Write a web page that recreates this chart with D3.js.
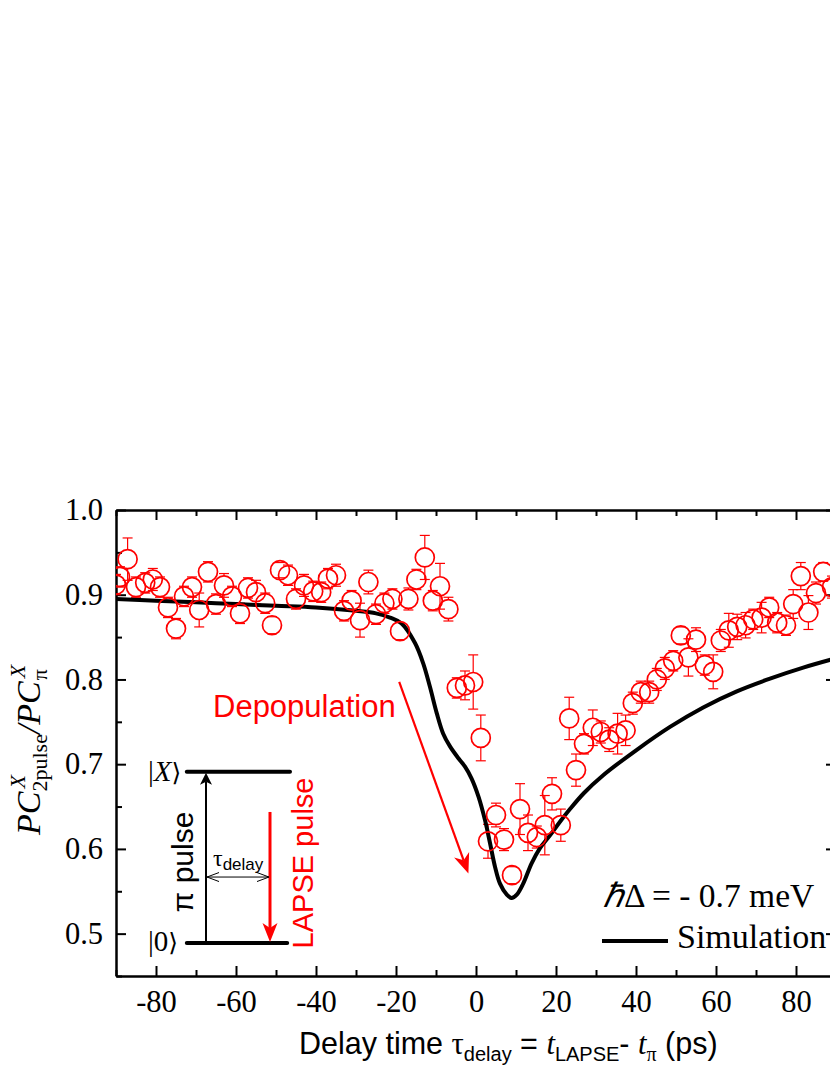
<!DOCTYPE html>
<html><head><meta charset="utf-8">
<script src="https://cdn.jsdelivr.net/npm/d3@7"></script>
<style>body{margin:0;background:#fff} svg{display:block}</style>
</head><body>
<svg id="c" width="830" height="1075"></svg>
<script>
// ---- data ----
const delayTimes = [-90,-89,-87.1,-85,-82.7,-80.8,-79,-77,-75,-73,
  -71,-69.2,-67,-65,-63,-61,-59,-57,-55,-52.7,
  -51,-49,-47,-45,-43,-40.7,-38.7,-37,-35,-33,
  -31.1,-29,-26.9,-25,-22.9,-20.9,-19,-16.9,-14.9,-12.8,
  -10.8,-9,-6.9,-4.8,-2.75,-0.7,1.2,3,5,7,
  9,11,13,15.2,17.2,19,21.2,23.3,25,27,
  29.2,31.2,33.3,35.4,37.4,39.2,41.2,43.3,45.2,47.2,
  49.3,51.2,53.1,55,57.2,59.3,61.2,63.2,65.3,67.4,
  69.3,71.4,73.3,75.3,77.5,79.3,81.2,83.1,85,86.8,89];
const ratioValues = [0.912,0.921,0.942,0.909,0.914,0.918,0.909,0.885,0.860,0.898,
  0.909,0.882,0.927,0.889,0.911,0.898,0.878,0.908,0.903,0.890,
  0.864,0.929,0.923,0.895,0.911,0.904,0.903,0.919,0.923,0.881,
  0.893,0.870,0.915,0.877,0.890,0.895,0.857,0.895,0.918,0.944,
  0.893,0.910,0.883,0.790,0.793,0.797,0.731,0.609,0.640,0.611,
  0.569,0.647,0.619,0.614,0.628,0.665,0.628,0.754,0.693,0.724,
  0.743,0.738,0.729,0.736,0.740,0.772,0.785,0.785,0.800,0.813,
  0.822,0.852,0.826,0.847,0.817,0.809,0.846,0.858,0.862,0.864,
  0.871,0.873,0.885,0.867,0.864,0.889,0.922,0.879,0.902,0.927,0.909];
const ratioErrors = [0.012,0.012,0.025,0.012,0.012,0.013,0.012,0.012,0.012,0.012,
  0.012,0.020,0.012,0.012,0.014,0.012,0.012,0.012,0.014,0.012,
  0.010,0.009,0.012,0.012,0.013,0.012,0.012,0.012,0.013,0.012,
  0.012,0.020,0.014,0.012,0.012,0.012,0.010,0.013,0.012,0.026,
  0.012,0.027,0.014,0.012,0.017,0.032,0.027,0.020,0.014,0.013,
  0.010,0.030,0.021,0.013,0.035,0.019,0.019,0.025,0.019,0.012,
  0.021,0.013,0.014,0.024,0.018,0.013,0.013,0.013,0.013,0.013,
  0.012,0.010,0.022,0.014,0.012,0.020,0.013,0.020,0.015,0.015,
  0.012,0.018,0.012,0.012,0.012,0.017,0.016,0.020,0.013,0.011,0.013];
const simTimes = [-90,-80,-70,-60,-50,-40,-30,-25,-21.5,-18.6,-15.25,-13.2,-11.5,-9.8,-8.2,-6.5,-4.4,-2.75,-1.1,0.6,
  2.25,3.5,4.75,6,7.7,8.9,10.2,11.8,13.9,16,18.5,21,23.5,27,31.8,40.2,48.5,56.8,65.2,73.5,81.8,90];
const simValues = [0.895,0.893,0.891,0.889,0.887,0.885,0.881,0.878,0.873,0.866,0.843,0.819,0.791,0.760,0.736,0.721,0.707,0.697,0.683,0.662,
  0.634,0.607,0.579,0.559,0.546,0.542,0.546,0.559,0.583,0.601,0.616,0.632,0.647,0.666,0.687,0.717,0.744,0.767,0.786,0.801,0.814,0.825];
const xMajorTicks = [-80,-60,-40,-20,0,20,40,60,80];
const xMinorTicks = [-90,-70,-50,-30,-10,10,30,50,70,90];
const yMajorTicks = [0.5,0.6,0.7,0.8,0.9,1.0];
const yMinorTicks = [0.45,0.55,0.65,0.75,0.85,0.95];

const SERIF = "'Liberation Serif','Times New Roman',serif";
const SANS = "'Liberation Sans',Arial,sans-serif";
const RED = "#ff0000";

const svg = d3.select("#c");
const m = {l:116, r:836, t:510, b:976};
const x = d3.scaleLinear().domain([-90,90]).range([m.l,m.r]);
const y = d3.scaleLinear().domain([0.45,1.0]).range([m.b,m.t]);

svg.append("rect").attr("width",830).attr("height",1075).attr("fill","#fff");

svg.append("clipPath").attr("id","plot").append("rect")
  .attr("x",m.l).attr("y",m.t).attr("width",m.r-m.l).attr("height",m.b-m.t);

// ---- axes ----
function styleAxis(g, keepDomain){
  if(keepDomain) g.select(".domain").attr("stroke","#000").attr("stroke-width",2.5);
  else g.select(".domain").remove();
  g.selectAll(".tick line").attr("stroke","#000").attr("stroke-width",2);
  g.selectAll("text").attr("font-family",SERIF).attr("font-size",30.5).attr("fill","#000");
}
svg.append("g").attr("transform",`translate(0,${m.b})`)
  .call(d3.axisBottom(x).tickValues(xMinorTicks).tickSize(-6).tickSizeOuter(0).tickFormat(""))
  .call(g=>styleAxis(g,false));
svg.append("g").attr("transform",`translate(0,${m.b})`)
  .call(d3.axisBottom(x).tickValues(xMajorTicks).tickSize(-10).tickSizeOuter(0).tickPadding(14).tickFormat(d=>String(d)))
  .call(g=>styleAxis(g,true));
svg.append("g").attr("transform",`translate(0,${m.t})`)
  .call(d3.axisTop(x).tickValues(xMinorTicks).tickSize(-6).tickSizeOuter(0).tickFormat(""))
  .call(g=>styleAxis(g,false));
svg.append("g").attr("transform",`translate(0,${m.t})`)
  .call(d3.axisTop(x).tickValues(xMajorTicks).tickSize(-10).tickSizeOuter(0).tickFormat(""))
  .call(g=>styleAxis(g,true));
svg.append("g").attr("transform",`translate(${m.l},0)`)
  .call(d3.axisLeft(y).tickValues(yMinorTicks).tickSize(-6).tickSizeOuter(0).tickFormat(""))
  .call(g=>styleAxis(g,false));
svg.append("g").attr("transform",`translate(${m.l},0)`)
  .call(d3.axisLeft(y).tickValues(yMajorTicks).tickSize(-10).tickSizeOuter(0).tickPadding(13).tickFormat(d=>d.toFixed(1)))
  .call(g=>styleAxis(g,true));
svg.append("g").attr("transform",`translate(${m.r},0)`)
  .call(d3.axisRight(y).tickValues(yMinorTicks).tickSize(-6).tickSizeOuter(0).tickFormat(""))
  .call(g=>styleAxis(g,false));
svg.append("g").attr("transform",`translate(${m.r},0)`)
  .call(d3.axisRight(y).tickValues(yMajorTicks).tickSize(-10).tickSizeOuter(0).tickFormat(""))
  .call(g=>styleAxis(g,true));

// ---- data ----
const pts = delayTimes.map((t,i)=>({t, v:ratioValues[i], e:ratioErrors[i]}));
const R = 9.5;
const dataG = svg.append("g").attr("clip-path","url(#plot)");
const eb = dataG.append("g").attr("stroke",RED).attr("stroke-width",1.2).attr("fill","none");
pts.forEach(p=>{
  const cx=x(p.t), cy=y(p.v), top=y(p.v+p.e), bot=y(p.v-p.e);
  if(cy-top>R){
    eb.append("line").attr("x1",cx).attr("x2",cx).attr("y1",top).attr("y2",cy-R);
    eb.append("line").attr("x1",cx).attr("x2",cx).attr("y1",cy+R).attr("y2",bot);
  }
  eb.append("line").attr("x1",cx-5).attr("x2",cx+5).attr("y1",top).attr("y2",top);
  eb.append("line").attr("x1",cx-5).attr("x2",cx+5).attr("y1",bot).attr("y2",bot);
});
dataG.append("path").datum(simTimes.map((t,i)=>[t,simValues[i]]))
  .attr("fill","none").attr("stroke","#000").attr("stroke-width",4).attr("stroke-linejoin","round")
  .attr("d", d3.line().x(d=>x(d[0])).y(d=>y(d[1])).curve(d3.curveCatmullRom.alpha(0.5)));
dataG.append("g").selectAll("circle").data(pts).join("circle")
  .attr("cx",d=>x(d.t)).attr("cy",d=>y(d.v)).attr("r",R)
  .attr("fill","none").attr("stroke",RED).attr("stroke-width",1.7);

// ---- arrows ----
function arrow(g, x1,y1,x2,y2, color, lw, L, w, n){
  const dx=x2-x1, dy=y2-y1, len=Math.hypot(dx,dy), ux=dx/len, uy=dy/len, px=-uy, py=ux;
  const bx=x2-L*ux, by=y2-L*uy, nx=x2-(L-n)*ux, ny=y2-(L-n)*uy;
  g.append("line").attr("x1",x1).attr("y1",y1).attr("x2",nx).attr("y2",ny)
    .attr("stroke",color).attr("stroke-width",lw);
  g.append("path").attr("d",`M${x2},${y2}L${bx+w*px},${by+w*py}L${nx},${ny}L${bx-w*px},${by-w*py}Z`)
    .attr("fill",color);
}
const ann = svg.append("g");
arrow(ann, x(-19.2), y(0.797), x(-1.9), y(0.571), RED, 2.2, 20, 8, 6);
ann.append("text").attr("x",213).attr("y",717).attr("font-family",SANS).attr("font-size",31)
  .attr("fill",RED).text("Depopulation");

// inset level diagram
const xl0=x(-72.3), xl1=x(-46.5), yX=y(0.691), y0=y(0.489);
ann.append("line").attr("x1",xl0).attr("x2",xl1).attr("y1",yX).attr("y2",yX).attr("stroke","#000").attr("stroke-width",4).attr("stroke-linecap","round");
ann.append("line").attr("x1",xl0).attr("x2",x(-47.2)).attr("y1",y0).attr("y2",y0).attr("stroke","#000").attr("stroke-width",4).attr("stroke-linecap","round");
const xPi=x(-67.5), xL=x(-51.5);
arrow(ann, xPi, y0, xPi, yX+1, "#000", 2, 12, 6, 3);
arrow(ann, xL, y(0.6436), xL, y0-1, RED, 3, 19, 7.5, 5);
const yT=y(0.5668);
ann.append("line").attr("x1",xPi+1).attr("x2",xL-1).attr("y1",yT).attr("y2",yT).attr("stroke","#000").attr("stroke-width",1);
[[xPi+1,1],[xL-1,-1]].forEach(([tx,s])=>{
  ann.append("path").attr("d",`M${tx+s*12},${yT-4.5}L${tx},${yT}L${tx+s*12},${yT+4.5}`)
    .attr("fill","none").attr("stroke","#000").attr("stroke-width",1);
});
const tauT = ann.append("text").attr("x",213).attr("y",866).attr("font-family",SERIF).attr("font-size",24);
tauT.append("tspan").text("τ");
tauT.append("tspan").attr("font-family",SANS).attr("font-size",17).attr("dy",4).text("delay");

function ket(yy, inner, italic){
  const t = ann.append("text").attr("x",148).attr("y",yy).attr("font-family",SERIF).attr("font-size",29);
  t.append("tspan").text("|");
  t.append("tspan").attr("font-style",italic?"italic":"normal").text(inner);
  t.append("tspan").attr("font-family","'DejaVu Serif','DejaVu Sans',serif").attr("font-size",25).text("\u27E9");
}
ket(yX+9, "X", true);
ket(y0+8, "0", false);

ann.append("text").attr("transform",`translate(193,862) rotate(-90)`).attr("text-anchor","middle")
  .attr("font-family",SANS).attr("font-size",30).attr("fill","#000").text("π pulse");
ann.append("text").attr("transform",`translate(313,863) rotate(-90)`).attr("text-anchor","middle")
  .attr("font-family",SANS).attr("font-size",29).attr("fill",RED).text("LAPSE pulse");

// legend
const lg = ann.append("text").attr("x",603).attr("y",907).attr("font-family",SERIF).attr("font-size",33.5);
lg.append("tspan").attr("font-style","italic").text("ℏ");
lg.append("tspan").text("Δ = - 0.7 meV");
ann.append("line").attr("x1",602).attr("x2",668).attr("y1",941).attr("y2",941).attr("stroke","#000").attr("stroke-width",4);
ann.append("text").attr("x",677).attr("y",948).attr("font-family",SERIF).attr("font-size",34).text("Simulation");

// x axis title
const xt = svg.append("text").attr("x",299).attr("y",1054).attr("font-family",SANS).attr("font-size",30.5).attr("fill","#000");
xt.append("tspan").text("Delay time ");
xt.append("tspan").attr("font-family",SERIF).text("τ");
xt.append("tspan").attr("font-size",20).attr("dy",7).text("delay");
xt.append("tspan").attr("dy",-7).text(" = ");
xt.append("tspan").attr("font-family",SERIF).attr("font-style","italic").text("t");
xt.append("tspan").attr("font-size",20).attr("dy",7).text("LAPSE");
xt.append("tspan").attr("dy",-7).text("- ");
xt.append("tspan").attr("font-family",SERIF).attr("font-style","italic").text("t");
xt.append("tspan").attr("font-family",SERIF).attr("font-size",20).attr("dy",7).text("π");
xt.append("tspan").attr("dy",-7).text(" (ps)");

// y axis title (rotated, pieces measured)
const yg = svg.append("g").attr("transform","translate(40,835) rotate(-90)");
function piece(txt, px, py, size, style, fam){
  const t = yg.append("text").attr("x",px).attr("y",py).attr("font-family",fam||SERIF)
    .attr("font-size",size).attr("font-style",style||"normal").attr("fill","#000").text(txt);
  return t.node().getComputedTextLength();
}
let cx0 = 0;
cx0 += piece("PC",cx0,0,34,"italic");
let wa = piece("X",cx0+3,-15,22,"italic");
let wb = piece("2pulse",cx0,7,22,"normal");
cx0 += Math.max(wa+3,wb);
cx0 += piece("/PC",cx0,0,34,"italic");
wa = piece("X",cx0+3,-15,22,"italic");
wb = piece("π",cx0+1,7,22,"normal");
</script>
</body></html>
